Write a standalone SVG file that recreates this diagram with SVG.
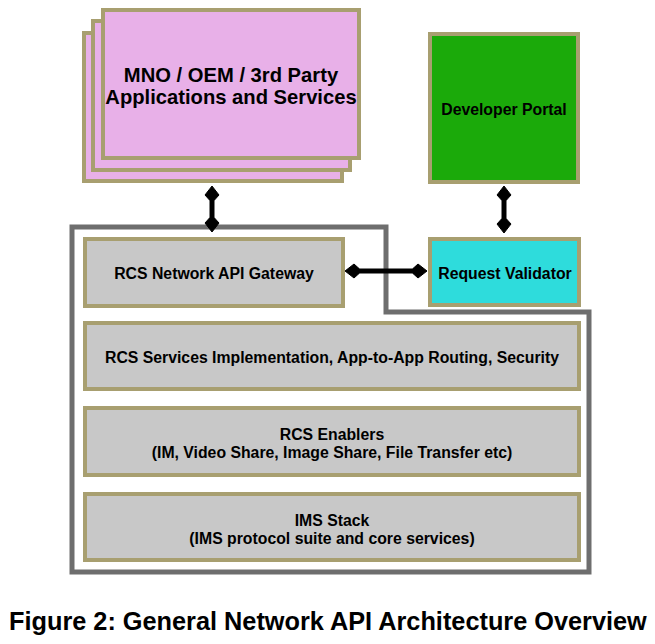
<svg xmlns="http://www.w3.org/2000/svg" width="655" height="644" viewBox="0 0 655 644">
  <style>
    .box { stroke: #A89F70; stroke-width: 4; }
    .gray { fill: #C8C8C8; }
    .pink { fill: #E8B0E8; }
    .green { fill: #1BAA0A; }
    .cyan { fill: #2EDCDC; }
    .t { font-family: "Liberation Sans", Arial, Helvetica, sans-serif; font-weight: bold; font-size: 15.8px; fill: #000; text-anchor: middle; }
    .big { font-size: 20.2px; }
    .cap { font-family: "Liberation Sans", Arial, Helvetica, sans-serif; font-weight: bold; font-size: 25.3px; fill: #000; }
    .frame { fill: none; stroke: #6E6E6E; stroke-width: 5; }
    .conn { stroke: #000; stroke-width: 5; fill: none; marker-start: url(#ah); marker-end: url(#ah); }
  </style>
  <defs>
    <marker id="ah" markerUnits="userSpaceOnUse" viewBox="-6 -8 17 16" markerWidth="17" markerHeight="16" refX="0" refY="0" orient="auto-start-reverse" overflow="visible">
      <path d="M10,0 L1,-7 L-4,-2.5 L-4,2.5 L1,7 Z" fill="#000" stroke="#000" stroke-width="1" stroke-linejoin="round"/>
    </marker>
  </defs>
  <rect width="655" height="644" fill="#FFFFFF"/>

  <g id="frame">
    <path class="frame" d="M72,227 H386 V312 H589 V572 H72 Z"/>
  </g>

  <g id="mno">
    <rect class="box pink" x="84" y="33" width="258" height="148"/>
    <rect class="box pink" x="93" y="21" width="257" height="149"/>
    <rect class="box pink" x="103" y="10" width="256" height="148"/>
    <text class="t big" x="231" y="82">MNO / OEM / 3rd Party</text>
    <text class="t big" x="231" y="104">Applications and Services</text>
  </g>

  <g id="portal">
    <rect class="box green" x="430" y="34" width="148" height="148"/>
    <text class="t" x="504" y="115">Developer Portal</text>
  </g>

  <g id="gateway">
    <rect class="box gray" x="85" y="239" width="258" height="67"/>
    <text class="t" x="214" y="279">RCS Network API Gateway</text>
  </g>

  <g id="validator">
    <rect class="box cyan" x="430" y="239" width="149" height="66"/>
    <text class="t" x="505" y="279">Request Validator</text>
  </g>

  <g id="services">
    <rect class="box gray" x="85" y="323" width="494" height="66"/>
    <text class="t" x="332" y="363">RCS Services Implementation, App-to-App Routing, Security</text>
  </g>

  <g id="enablers">
    <rect class="box gray" x="85" y="408" width="494" height="67"/>
    <text class="t" x="332" y="440">RCS Enablers</text>
    <text class="t" x="332" y="458">(IM, Video Share, Image Share, File Transfer etc)</text>
  </g>

  <g id="ims">
    <rect class="box gray" x="85" y="494" width="494" height="66"/>
    <text class="t" x="332" y="526">IMS Stack</text>
    <text class="t" x="332" y="544">(IMS protocol suite and core services)</text>
  </g>

  <g id="connectors">
    <line class="conn" x1="212" y1="196" x2="212" y2="222"/>
    <line class="conn" x1="504" y1="196" x2="504" y2="223"/>
    <line class="conn" x1="355" y1="271" x2="417" y2="271"/>
  </g>

  <text class="cap" x="9" y="630">Figure 2: General Network API Architecture Overview</text>
</svg>
